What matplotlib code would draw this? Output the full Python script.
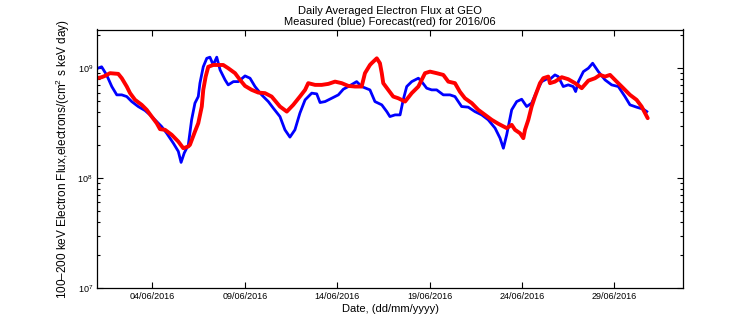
import numpy as np
import pandas as pd
import matplotlib
matplotlib.use('Agg')
import matplotlib.pyplot as plt
import matplotlib.dates as mdates
from matplotlib.ticker import LogLocator, NullFormatter

plt.rcParams['font.family'] = ['Liberation Sans', 'DejaVu Sans']
plt.rcParams['mathtext.fontset'] = 'custom'
plt.rcParams['mathtext.rm'] = 'Liberation Sans'

# day of June 2016 (1.0 = 01/06 00:00), flux in units of 1e9
meas_day = [1.0, 1.05, 1.25, 1.52, 1.80, 2.07, 2.34, 2.61, 2.88, 3.23, 3.60, 3.87,
            4.23, 4.50, 4.77, 5.13, 5.40, 5.55, 5.72, 5.94, 6.12, 6.30, 6.48, 6.57,
            6.75, 6.94, 7.11, 7.29, 7.48, 7.66, 7.93, 8.10, 8.38, 8.65, 9.01, 9.28,
            9.55, 9.91, 10.27, 10.54, 10.90, 11.17, 11.44, 11.71, 11.98, 12.26, 12.62,
            12.89, 13.07, 13.34, 13.70, 14.06, 14.33, 14.60, 15.05, 15.32, 15.77, 16.04,
            16.41, 16.68, 16.85, 17.13, 17.40, 17.57, 17.76, 18.03, 18.39, 18.57, 18.84,
            19.11, 19.38, 19.74, 20.10, 20.37, 20.73, 21.09, 21.45, 21.82, 22.17, 22.54,
            22.81, 22.99, 23.17, 23.44, 23.71, 23.98, 24.25, 24.52, 24.79, 25.06, 25.42,
            25.51, 25.78, 25.96, 26.23, 26.50, 26.77, 26.90, 27.05, 27.32, 27.59, 27.82,
            28.13, 28.49, 28.85, 29.21, 29.57, 29.84, 30.20, 30.56, 30.75]
meas_flux = [1.00, 1.00, 1.03, 0.869, 0.681, 0.572, 0.572, 0.552, 0.497, 0.448, 0.412, 0.376,
             0.327, 0.294, 0.256, 0.208, 0.175, 0.139, 0.169, 0.200, 0.339, 0.481, 0.552, 0.731,
             1.03, 1.23, 1.26, 1.07, 1.26, 0.965, 0.783, 0.705, 0.755, 0.755, 0.851, 0.811,
             0.681, 0.572, 0.497, 0.433, 0.363, 0.275, 0.236, 0.275, 0.390, 0.515, 0.593,
             0.584, 0.487, 0.497, 0.533, 0.572, 0.644, 0.681, 0.755, 0.681, 0.635, 0.497,
             0.464, 0.403, 0.363, 0.376, 0.376, 0.515, 0.681, 0.755, 0.811, 0.755, 0.658,
             0.635, 0.635, 0.572, 0.572, 0.552, 0.448, 0.442, 0.403, 0.376, 0.339, 0.285,
             0.231, 0.187, 0.248, 0.418, 0.497, 0.522, 0.448, 0.481, 0.613, 0.755, 0.811,
             0.794, 0.869, 0.839, 0.681, 0.705, 0.681, 0.613, 0.755, 0.931, 1.00, 1.11,
             0.931, 0.783, 0.705, 0.681, 0.552, 0.464, 0.442, 0.424, 0.403]

fc_day = [1.0, 1.25, 1.43, 1.70, 2.15, 2.34, 2.61, 2.79, 3.06, 3.42, 3.69, 3.96,
          4.23, 4.41, 4.68, 5.04, 5.40, 5.67, 5.94, 6.03, 6.30, 6.48, 6.67, 6.75,
          6.88, 7.02, 7.29, 7.56, 7.83, 8.10, 8.47, 8.74, 9.01, 9.37, 9.73, 10.09,
          10.45, 10.90, 11.27, 11.62, 11.98, 12.26, 12.43, 12.80, 13.16, 13.52, 13.88,
          14.24, 14.60, 14.96, 15.32, 15.50, 15.77, 15.86, 16.14, 16.31, 16.41, 16.49,
          16.76, 17.03, 17.30, 17.67, 18.03, 18.39, 18.75, 19.02, 19.38, 19.74, 20.01,
          20.37, 20.64, 20.91, 21.28, 21.63, 22.00, 22.36, 22.72, 23.17, 23.44, 23.62,
          23.89, 24.07, 24.16, 24.34, 24.52, 24.70, 24.97, 25.15, 25.42, 25.51, 25.78,
          26.15, 26.50, 26.87, 27.23, 27.59, 27.95, 28.22, 28.49, 28.76, 29.12, 29.48,
          29.84, 30.20, 30.47, 30.80]
fc_flux = [0.811, 0.828, 0.851, 0.901, 0.888, 0.811, 0.681, 0.593, 0.515, 0.464, 0.418, 0.363,
           0.316, 0.279, 0.275, 0.248, 0.215, 0.187, 0.194, 0.201, 0.265, 0.316, 0.448, 0.635,
           0.839, 1.03, 1.07, 1.07, 1.07, 1.00, 0.901, 0.783, 0.690, 0.635, 0.600, 0.593,
           0.552, 0.448, 0.403, 0.464, 0.552, 0.635, 0.731, 0.705, 0.705, 0.720, 0.755,
           0.731, 0.690, 0.681, 0.681, 0.901, 1.07, 1.11, 1.23, 1.11, 0.901, 0.731,
           0.635, 0.552, 0.533, 0.497, 0.593, 0.681, 0.901, 0.931, 0.901, 0.869, 0.755,
           0.731, 0.610, 0.533, 0.481, 0.418, 0.376, 0.339, 0.312, 0.285, 0.305, 0.275,
           0.256, 0.231, 0.275, 0.339, 0.448, 0.552, 0.731, 0.811, 0.839, 0.731, 0.755,
           0.828, 0.794, 0.731, 0.658, 0.771, 0.811, 0.869, 0.839, 0.869, 0.755, 0.658,
           0.572, 0.515, 0.448, 0.351]

tick_days = [4, 9, 14, 19, 24, 29]

base = pd.Timestamp('2016-05-31')
to_date = lambda d: base + pd.to_timedelta(np.array(d), unit='D')

fig = plt.figure(figsize=(7.56, 3.24), dpi=100)
ax = fig.add_axes([97 / 756, 1 - 288 / 324, 586 / 756, 258.5 / 324])

ax.plot(to_date(meas_day), np.array(meas_flux) * 1e9, color=(0, 0, 1), lw=2)
ax.plot(to_date(fc_day), np.array(fc_flux) * 1e9, color=(1, 0, 0), lw=2.8,
        solid_capstyle='round', solid_joinstyle='round')

ax.set_yscale('log')
ax.set_ylim(1e7, 2.25e9)
ax.set_xlim(to_date([1.0])[0], to_date([32.71])[0])
ax.set_xticks(to_date(tick_days))
ax.xaxis.set_major_formatter(mdates.DateFormatter('%d/%m/%Y'))
ax.yaxis.set_minor_locator(LogLocator(base=10, subs=np.arange(2, 10)))
ax.yaxis.set_minor_formatter(NullFormatter())

ax.tick_params(which='both', direction='in', top=True, right=True, labelsize=6.5, pad=3)
ax.tick_params(which='major', length=4.5, width=0.8)
ax.tick_params(which='minor', length=2.5, width=0.8)
ax.tick_params(axis='x', which='minor', top=False, bottom=False)
for s in ax.spines.values():
    s.set_linewidth(0.9)

ax.set_title('Daily Averaged Electron Flux at GEO\nMeasured (blue) Forecast(red) for 2016/06',
             fontsize=8, pad=3, linespacing=1.15)
ax.set_xlabel('Date, (dd/mm/yyyy)', fontsize=8, labelpad=2)
ax.set_ylabel('100\u2013200 keV Electron Flux,electrons/(cm$^2$ s keV day)', fontsize=8.5, labelpad=4)

fig.savefig('out.png', dpi=100)
